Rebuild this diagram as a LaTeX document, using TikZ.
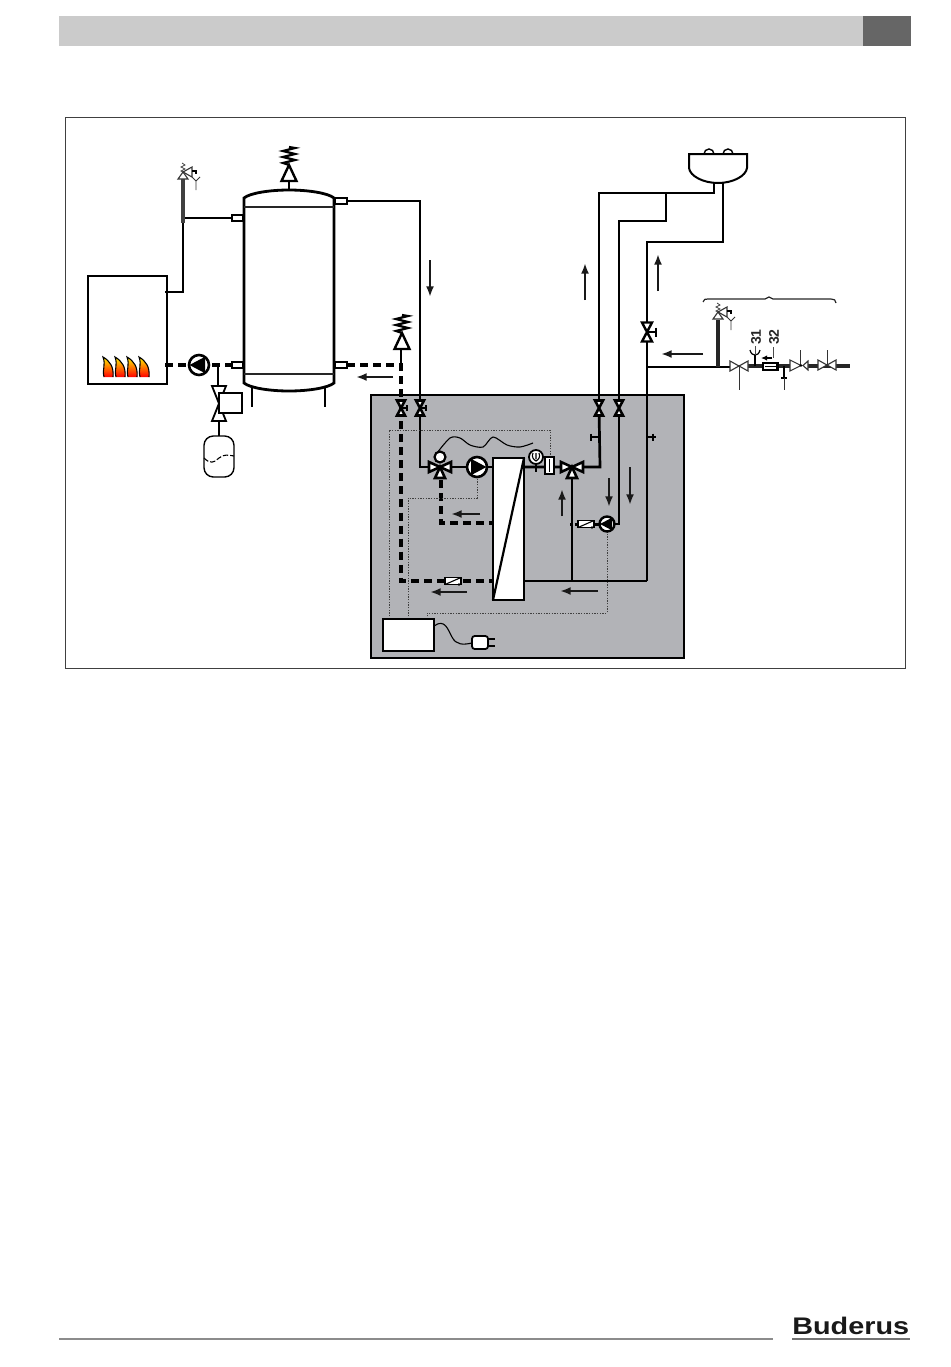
\documentclass[tikz,border=0pt]{standalone}
\usepackage{fontspec}
\setmainfont{Liberation Sans}
\usetikzlibrary{arrows.meta,shapes.geometric}
\definecolor{boxgray}{HTML}{B2B3B7}
\definecolor{barlight}{HTML}{CBCBCB}
\definecolor{bardark}{HTML}{666666}
\newcommand{\pxw}[1]{#1*0.75pt}
\tikzset{
  pipe/.style={line width=\pxw{2.7},black},
  pipeb/.style={line width=\pxw{3.6},black!85},
  thinp/.style={line width=\pxw{1.4},black},
  dashp/.style={line width=\pxw{3.4},black,dash pattern=on 6pt off 3.8pt},
  sig/.style={line width=\pxw{0.9},black!75,dash pattern=on 1pt off 1pt},
  flow/.style={line width=\pxw{2.7},black!90,-{Latex[length=8pt,width=6pt]}},
  sym/.style={line width=\pxw{2.6},black,fill=white,line join=miter},
  symthin/.style={line width=\pxw{1.1},black!80,fill=white},
  vv/.pic={\draw[sym] (-4,-7.5)--(4,-7.5)--(-4,7.5)--(4,7.5)--cycle;},
  hvt/.pic={\draw[line width=\pxw{2}] (0,0)--(6,0);
            \draw[line width=\pxw{1.8}] (6,-3)--(6,3);
            \draw[sym] (-4,-7.5)--(4,-7.5)--(-4,7.5)--(4,7.5)--cycle;},
  hvtl/.pic={\draw[line width=\pxw{1.8}] (0,0)--(9,0) (9,-4.5)--(9,4.5);
            \draw[line width=\pxw{2.4},fill=white] (-5,-9.5)--(5,-9.5)--(-5,9.5)--(5,9.5)--cycle;},
  mix/.pic={\draw[sym] (0,0)--(-11,-5)--(-11,5)--cycle;
            \draw[sym] (0,0)--(11,-5)--(11,5)--cycle;
            \draw[sym] (0,0)--(-5,11)--(5,11)--cycle;},
  pumpR/.pic={\draw[line width=\pxw{2.6},fill=white] (0,0) circle (10);
              \fill (-6,-8.2)--(9.5,0)--(-6,8.2)--cycle;},
  pumpL/.pic={\draw[line width=\pxw{2.6},fill=white] (0,0) circle (10);
              \fill (6,-8.2)--(-9.5,0)--(6,8.2)--cycle;},
  pumpS/.pic={\draw[line width=\pxw{2.4},fill=white] (0,0) circle (7.5);
              \fill (5,-6.3)--(-7,0)--(5,6.3)--cycle;},
  vent/.pic={\draw[line width=\pxw{2.4},fill=white] (-7.5,16)--(7.5,16)--(0,0)--cycle;
             \draw[line width=\pxw{2.2}] (0,0)--(-6,-2)--(6,-5)--(-6,-8)--(6,-11)--(-6,-14)--(6,-17)--(0,-18);},
  safety/.pic={\draw[symthin] (-5,6)--(5,6)--(0,-1)--cycle;
               \draw[symthin] (0,-1)--(9,-6)--(9,4)--cycle;
               \draw[line width=\pxw{.8},black!75] (0,-1)--(-2,-2)--(2,-4)--(-2,-6)--(2,-8)--(-1,-10);
               \draw[line width=\pxw{1.6}] (9,-2)--(13,-2)--(13,1);
               \draw[line width=\pxw{.8},black!80] (9,4)--(13,8)--(17,4) (13,8)--(13,17);},
  inlinev/.pic={\draw[symthin] (-9,-5)--(-9,5)--(9,-5)--(9,5)--cycle;},
  checkf/.pic={\draw[line width=\pxw{1.1},fill=white] (-8,-3.5) rectangle (8,3.5);
               \draw[line width=\pxw{1.1}] (-8,3.5)--(8,-3.5);
               \fill (6,3.5) circle (1.3);},
  flame/.pic={\shade[top color=yellow!90!orange,middle color=orange,bottom color=red]
              (-4,20) .. controls (-6,12) and (-2,8) .. (-5,0) .. controls (2,4) and (6,10) .. (5,20) -- cycle;
              \draw[line width=\pxw{1.1}] (-4,20) .. controls (-6,12) and (-2,8) .. (-5,0) .. controls (2,4) and (6,10) .. (5,20);}
}
\begin{document}
\begin{tikzpicture}[x=0.75pt,y=-0.75pt]
\useasboundingbox (0,0) rectangle (950,1367);
% page furniture
\fill[barlight] (59,16) rectangle (863,46);
\fill[bardark] (863,16) rectangle (911,46);
\draw[line width=\pxw{1.6},black!45] (59,1339)--(773,1339);
\node[font=\bfseries,text=black!90,inner sep=0,anchor=west,xscale=1.2] (logo) at (792,1325.5)
  {\fontsize{18pt}{18pt}\selectfont Buderus};
\draw[line width=\pxw{2},black!55] (792,1338.5)--(910,1338.5);
% frame and control cabinet
\draw[line width=\pxw{0.8},black!75] (65,117) rectangle (905,668);
\fill[boxgray] (371,395) rectangle (684,658);
\draw[line width=\pxw{2.6},black] (371,395) rectangle (684,658);
% named points
\coordinate (vA) at (401,408); \coordinate (vB) at (420,408);
\coordinate (vC) at (599,408); \coordinate (vD) at (619,408);
\coordinate (vE) at (647,332);
\coordinate (mixL) at (440,467); \coordinate (mixR) at (572,467);
\coordinate (pmpA) at (477,467); \coordinate (pmpB) at (607,524); \coordinate (pmpC) at (199,365);
\coordinate (basinL) at (714,183); \coordinate (basinR) at (723,183);
\coordinate (tR) at (347,201); \coordinate (tL) at (232,218);
\coordinate (lL) at (232,365); \coordinate (lR) at (347,365);
\coordinate (boilA) at (165,292); \coordinate (boilB) at (165,365);
\coordinate (safeL) at (183,173); \coordinate (safeR) at (718,313);
% pipework outside
\draw[pipe] (tR)--(420,201)--(vB);
\draw[dashp] (lR)--(401,365)--(vA);
\draw[pipe] (401,350)--(401,365);
\draw[pipe] (boilA)--(183,292)--(183,218)--(tL);
\draw[line width=\pxw{3.6},black!75] (183,178)--(183,223);
\draw[pipe] (218,366)--(218,390);
\draw[thinp] (219,420)--(219,436);
% basin pipes
\draw[pipe] (basinL)--(714,193)--(599,193)--(vC);
\draw[pipe] (666,193)--(666,221)--(619,221)--(vD);
\draw[pipe] (basinR)--(723,242)--(647,242)--(647,581);
\draw[pipe] (524,581)--(647,581);
% cold water
\draw[pipe] (647,367)--(731,367);
\draw[pipeb] (718,367)--(718,320);
\draw[pipeb] (748,366)--(790,366) (805,366)--(850,366);
\draw[pipe] (755,366)--(755,355);
\draw[pipe] (784,366)--(784,378);
\draw[line width=\pxw{2}] (781,378)--(787,378);
\draw[line width=\pxw{.8},black!80] (784,378)--(784,390) (739,366)--(739,390) (827,365)--(827,350) (800,365)--(800,350);
\draw[line width=\pxw{1.2}] (750,350) .. controls (751,354) and (753,355) .. (755,355) .. controls (757,355) and (759,354) .. (760,350);
\draw[line width=\pxw{.8},black!70] (755,346)--(755,355) (773,347)--(773,358);
\draw[line width=\pxw{1.2},black!85] (703,302) .. controls (704,299) and (705,299) .. (708,299) -- (765,299) -- (769,297) -- (773,299) -- (831,299) .. controls (834,299) and (836,300) .. (836,303);
\draw[line width=\pxw{1.4},-{Latex[length=4.5pt,width=4pt]}] (772,358)--(761,358);
\pic at (739,366) {inlinev};
\pic at (827,365) {inlinev};
\draw[symthin] (790,360)--(790,371)--(801,365.5)--cycle;
\draw[symthin] (808,361)--(808,370)--(803,365.5)--cycle;
\fill (801,365.5) circle (1.3);
\draw[line width=\pxw{1.1},fill=white] (763,363) rectangle (778,370);
\draw[line width=\pxw{.7}] (765,366.5)--(776,366.5) (776,364)--(776,369);
\node[font=\bfseries,rotate=90,inner sep=0,text=black!85] (n31) at (756,337) {\fontsize{10.5pt}{11pt}\selectfont 31};
\node[font=\bfseries,rotate=90,inner sep=0,text=black!85] (n32) at (774,337) {\fontsize{10.5pt}{11pt}\selectfont 32};
\pic at (safeR) {safety};
\pic at (safeL) {safety};
% inside cabinet pipework
\draw[pipe] (vB)--(420,467)--(mixL);
\draw[pipe] (mixL)--(pmpA)--(524,467);
\draw[pipe] (524,467)--(mixR)--(600,467)--(vC);
\draw[pipe] (mixR)--(572,581);
\draw[pipe] (vD)--(619,524)--(pmpB);
\draw[dashp] (vA)--(401,581)--(492,581);
\draw[dashp] (441,480)--(441,523)--(493,523);
\draw[line width=\pxw{3},dash pattern=on 2pt off 1.5pt] (570,524)--(578,524);
\draw[line width=\pxw{3}] (594,524)--(600,524);
\draw[pipe] (590,437)--(599,437) (647,437)--(656,437);
\draw[line width=\pxw{1.8}] (591,433.5)--(591,440.5) (653,433.5)--(653,440.5);
% signal lines
\draw[sig] (389,619)--(389,430)--(550,430)--(550,457);
\draw[sig] (408,619)--(408,498)--(477,498)--(477,477);
\draw[sig] (427,619)--(427,613)--(607,613)--(607,532);
% heat exchanger
\draw[line width=\pxw{2.6},fill=white] (493,458) rectangle (524,600);
\draw[line width=\pxw{2.2}] (493,600)--(524,458);
% cabinet items
\draw[line width=\pxw{1.1}] plot[smooth] coordinates {(437,453) (450,438) (460,438) (470,445) (483,447) (493,437) (507,445) (520,447) (533,443)};
\pic at (vA) {hvt};
\pic at (vB) {hvt};
\pic at (vC) {vv};
\pic at (vD) {vv};
\pic at (vE) {hvtl};
\pic at (mixL) {mix};
\pic at (mixR) {mix};
\draw[line width=\pxw{2.2},fill=white] (440,457) circle (5.5);
\pic at (pmpA) {pumpR};
\pic at (pmpB) {pumpS};
\draw[line width=\pxw{1.8},fill=white] (536,457) circle (7);
\draw[line width=\pxw{1.1}] (533,453) .. controls (531,457) and (534,460) .. (536,461) .. controls (538,460) and (541,457) .. (539,453) (536,453)--(536,459);
\draw[line width=\pxw{1.8}] (536,464)--(536,472);
\draw[line width=\pxw{1.8},fill=white] (545,457) rectangle (554,474);
\draw[line width=\pxw{1.2}] (549.5,459)--(549.5,472);
\pic at (586,524) {checkf};
\pic at (453,581) {checkf};
\draw[line width=\pxw{2.6},fill=white] (383,619) rectangle (434,651);
\draw[line width=\pxw{1.1}] (434,626) .. controls (445,618) and (448,630) .. (452,637) .. controls (456,645) and (463,645) .. (472,643);
\draw[line width=\pxw{1.8},fill=white,rounded corners=2] (472,636) rectangle (488,649);
\draw[line width=\pxw{1.4}] (488,639)--(495,639) (488,646)--(495,646);
% flow arrows
\draw[flow] (430,260)--(430,297);
\draw[flow] (393,377)--(356,377);
\draw[flow] (585,300)--(585,263);
\draw[flow] (658,291)--(658,254);
\draw[flow] (703,354)--(661,354);
\draw[flow] (480,514)--(451,514);
\draw[flow] (467,592)--(430,592);
\draw[flow] (598,591)--(560,591);
\draw[flow] (562,516)--(562,489);
\draw[flow] (609,478)--(609,507);
\draw[flow] (630,467)--(630,505);
% basin
\draw[line width=\pxw{1.4},fill=white] (704,154) arc (180:360:5);
\draw[line width=\pxw{1.4},fill=white] (723,154) arc (180:360:5);
\draw[line width=\pxw{2},fill=white] (689,154)--(747,154)--(747,168) .. controls (746,176) and (733,183) .. (718,183) .. controls (703,183) and (690,176) .. (689,168) -- cycle;
% boiler
\draw[line width=\pxw{2.8},fill=white] (88,276) rectangle (167,384);
\draw[pipe] (boilA)--(183,292);
\draw[dashp] (boilB)--(pmpC);
\draw[dashp] (pmpC)--(lL);
\foreach \fx in {108,120,132,144} \pic at (\fx,357) {flame};
\pic at (pmpC) {pumpL};
% expansion group
\draw[line width=\pxw{1.8},fill=white] (212,386)--(226,386)--(212,421)--(226,421)--cycle;
\draw[line width=\pxw{1.4},fill=white] (219,393) rectangle (242,413);
\draw[line width=\pxw{1.4},fill=white,rounded corners=7] (204,436) rectangle (234,477);
\draw[line width=\pxw{1.1},dash pattern=on 4pt off 1.5pt] (204,458) .. controls (210,464) and (214,463) .. (219,458) .. controls (224,454) and (228,455) .. (234,456);
% storage tank
\draw[line width=\pxw{2.8},fill=white] (244,207) -- (244,198) .. controls (250,193) and (270,190) .. (289,190) .. controls (308,190) and (328,193) .. (334,198) -- (334,207) -- (334,374) -- (334,383) .. controls (328,388) and (308,391) .. (289,391) .. controls (270,391) and (250,388) .. (244,383) -- (244,374) -- cycle;
\draw[line width=\pxw{2.8},black!85] (244,207)--(334,207) (244,374)--(334,374);
\draw[line width=\pxw{2.6}] (252,387)--(252,407) (325,387)--(325,407);
\draw[line width=\pxw{2.2},fill=white] (232,215) rectangle (243,221);
\draw[line width=\pxw{2.2},fill=white] (232,362) rectangle (243,368);
\draw[line width=\pxw{2.2},fill=white] (335,198) rectangle (347,204);
\draw[line width=\pxw{2.2},fill=white] (335,362) rectangle (347,368);
% vents
\draw[pipe] (289,181)--(289,190);
\pic at (289,165) {vent};
\pic at (402,333) {vent};
\end{tikzpicture}
\end{document}
